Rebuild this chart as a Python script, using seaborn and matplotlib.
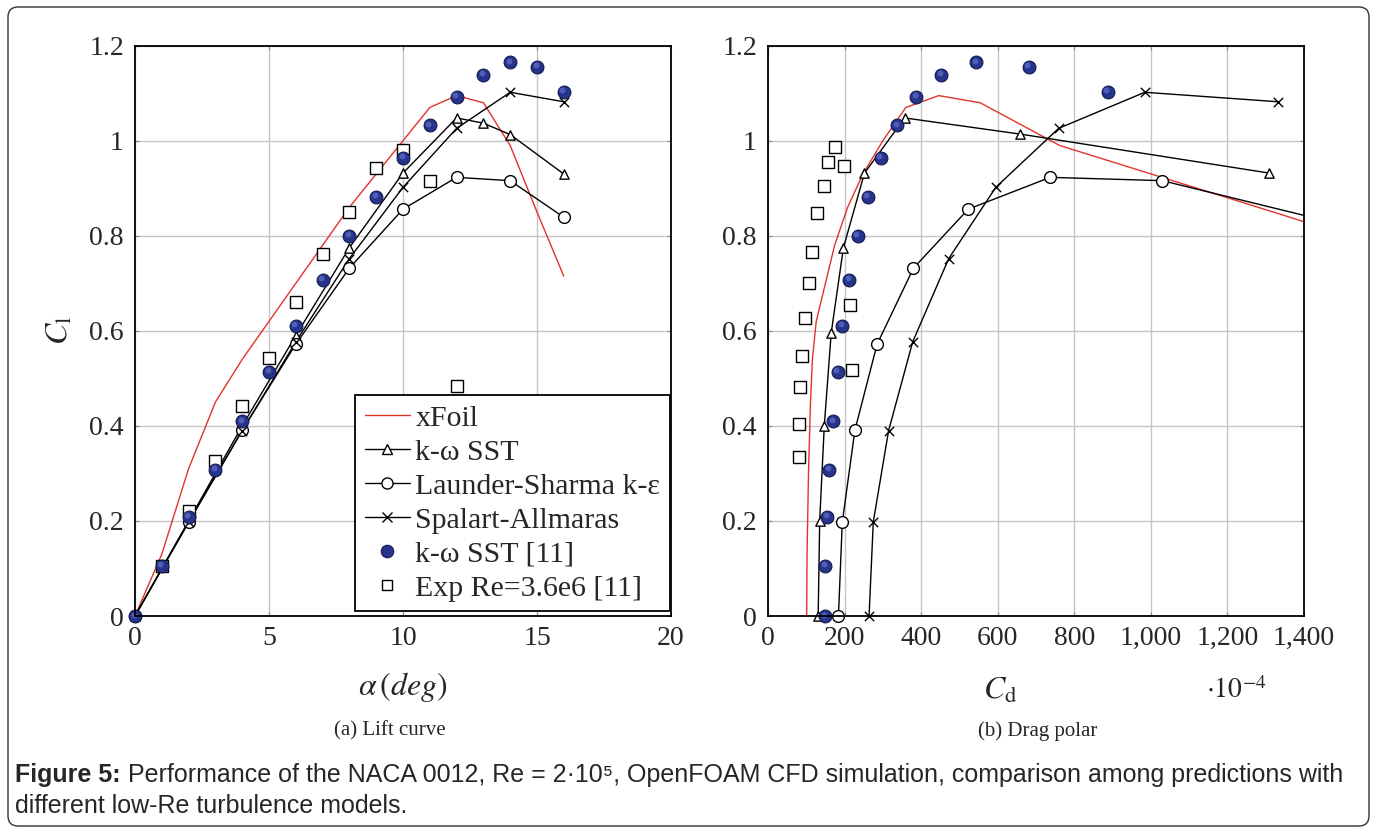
import numpy as np
import pandas as pd
import matplotlib
matplotlib.use("Agg")
import matplotlib.pyplot as plt
import matplotlib.transforms as mtrans
from matplotlib.lines import Line2D
from matplotlib.patches import FancyBboxPatch
import seaborn as sns

# ---------------- data ----------------
alpha = [0, 1, 2, 3, 4, 5, 6, 7, 8, 9, 10, 11, 12, 13, 14, 15, 16]
xfoil_cl = [0, 0.13, 0.31, 0.45, 0.54, 0.62, 0.70, 0.78, 0.86, 0.93, 1.0, 1.07, 1.095, 1.08, 0.99, 0.85, 0.715]
xfoil_cd = [101, 102, 106, 111, 116, 126, 150, 174, 208, 248, 300, 360, 446, 554, 762, 1320, 1850]

sst_alpha = [0, 2, 4, 6, 8, 10, 12, 13, 14, 16]
sst_cl = [0, 0.2, 0.4, 0.59, 0.775, 0.932, 1.048, 1.037, 1.013, 0.93]
sst_polar_cl = [0, 0.2, 0.4, 0.595, 0.775, 0.932, 1.048, 1.014, 0.932]
sst_polar_cd = [131, 135, 147, 165, 197, 252, 357, 659, 1309]

ls_alpha = [0, 2, 4, 6, 8, 10, 12, 14, 16]
ls_cl = [0, 0.197, 0.391, 0.572, 0.732, 0.856, 0.923, 0.916, 0.839]
ls_cd = [184, 194, 227, 285, 380, 523, 737, 1030, 1420]

sa_alpha = [0, 2, 4, 6, 8, 10, 12, 14, 16]
sa_cl = [0, 0.198, 0.39, 0.577, 0.752, 0.902, 1.026, 1.102, 1.082]
sa_cd = [264, 275, 315, 378, 472, 595, 759, 984, 1333]

ref_cl = [0, 0.106, 0.209, 0.308, 0.41, 0.514, 0.611, 0.707, 0.8, 0.882, 0.964, 1.033, 1.093, 1.139, 1.165, 1.156, 1.103]
ref_cd = [150, 150, 155, 160, 171, 182, 194, 212, 235, 261, 295, 337, 387, 452, 544, 681, 887]

exp_alpha = [1, 2, 3, 4, 5, 6, 7, 8, 9, 10, 11, 12]
exp_cl = [0.106, 0.22, 0.326, 0.442, 0.542, 0.66, 0.761, 0.851, 0.942, 0.981, 0.916, 0.483]
exp_polar_cd = [80, 81, 83, 88, 96, 108, 116, 128, 145, 157, 175, 198, 213, 219]
exp_polar_cl = [0.334, 0.404, 0.481, 0.548, 0.627, 0.70, 0.765, 0.847, 0.904, 0.956, 0.986, 0.946, 0.655, 0.517]

lift_xticks = [0, 5, 10, 15, 20]
cl_ticks = [0, 0.2, 0.4, 0.6, 0.8, 1.0, 1.2]
cl_labels = ["0", "0.2", "0.4", "0.6", "0.8", "1", "1.2"]
cd_ticks = [0, 200, 400, 600, 800, 1000, 1200, 1400]
cd_labels = ["0", "200", "400", "600", "800", "1,000", "1,200", "1,400"]

labels = ["xFoil", "k-\u03c9 SST", "Launder-Sharma k-\u03b5", "Spalart-Allmaras",
          "k-\u03c9 SST [11]", "Exp Re=3.6e6 [11]"]

caption_bold = "Figure 5:"
caption_line1 = (" Performance of the NACA 0012, Re = 2\u00b710\u2075, OpenFOAM CFD simulation, "
                 "comparison among predictions with")
caption_line2 = "different low-Re turbulence models."

# ---------------- style ----------------
sns.set_style("whitegrid")
plt.rcParams["font.family"] = ["Liberation Serif", "DejaVu Serif"]
plt.rcParams["mathtext.fontset"] = "stix"

W, H = 1373, 832
fig = plt.figure(figsize=(W / 100, H / 100), dpi=100)
fig.patch.set_facecolor("white")

RED = "#e2332b"
BLUE = "#27348b"
BLUE_EDGE = "#141a4f"
BLUE_HI = "#5a69c4"
TICK_FS = 20
LW = 1.0


def px_axes(x0, y0, x1, y1):
    return fig.add_axes([x0 / W, 1 - y1 / H, (x1 - x0) / W, (y1 - y0) / H])


def style_axes(ax):
    ax.set_facecolor("white")
    ax.grid(True, color="#c6c6c6", linewidth=1.0)
    for s in ax.spines.values():
        s.set_color("black")
        s.set_linewidth(1.3)
        s.set_zorder(5)
    ax.tick_params(direction="in", length=3, width=0.8, color="#888888",
                   labelsize=TICK_FS, top=True, right=True, bottom=True, left=True)
    ax.tick_params(axis="x", pad=7)
    ax.tick_params(axis="y", pad=8)


def line(ax, x, y, color="black", lw=LW):
    sns.lineplot(x=x, y=y, sort=False, estimator=None, color=color,
                 linewidth=lw, ax=ax, zorder=2)


def marks(ax, x, y, marker, size, xmax=None):
    df = pd.DataFrame({"x": x, "y": y})
    if xmax is not None:
        df = df[df["x"] <= xmax]
    if marker == "x":
        sns.scatterplot(data=df, x="x", y="y", marker="x", s=size, color="black",
                        linewidth=1.0, ax=ax, clip_on=False, zorder=4)
    else:
        sns.scatterplot(data=df, x="x", y="y", marker=marker, s=size,
                        facecolor="white", edgecolor="black", linewidth=1.0,
                        ax=ax, clip_on=False, zorder=4)


def dots(ax, x, y, xmax=None):
    df = pd.DataFrame({"x": x, "y": y})
    if xmax is not None:
        df = df[df["x"] <= xmax]
    sns.scatterplot(data=df, x="x", y="y", marker="o", s=85, color=BLUE,
                    edgecolor=BLUE_EDGE, linewidth=0.8, ax=ax, clip_on=False, zorder=4)
    # subtle highlight to mimic the shaded spheres
    shift = ax.transData + mtrans.ScaledTranslation(-1.5 / 100, 1.5 / 100, fig.dpi_scale_trans)
    hi = sns.scatterplot(data=df, x="x", y="y", marker="o", s=18, color=BLUE_HI,
                         linewidth=0, ax=ax, clip_on=False, zorder=4.5, alpha=0.8)
    hi.collections[-1].set_offset_transform(shift)


S_TRI, S_CIR, S_X, S_SQ = 45, 72, 45, 64

# ---------------- left: lift curve ----------------
ax1 = px_axes(135, 45.7, 671, 616)
style_axes(ax1)
line(ax1, alpha, xfoil_cl, color=RED)
line(ax1, sst_alpha, sst_cl)
line(ax1, ls_alpha, ls_cl)
line(ax1, sa_alpha, sa_cl)
marks(ax1, exp_alpha, exp_cl, "s", S_SQ)
marks(ax1, sst_alpha, sst_cl, "^", S_TRI)
marks(ax1, ls_alpha, ls_cl, "o", S_CIR)
marks(ax1, sa_alpha, sa_cl, "x", S_X)
dots(ax1, alpha, ref_cl)
ax1.set_xlim(0, 20)
ax1.set_ylim(0, 1.2)
ax1.set_xticks(lift_xticks)
ax1.set_xticklabels([str(v) for v in lift_xticks])
ax1.set_yticks(cl_ticks)
ax1.set_yticklabels(cl_labels)
ax1.set_xlabel(r"$\alpha\,(deg)$", fontsize=23, labelpad=14)
ax1.set_ylabel(r"$C_\mathrm{l}$", fontsize=23, labelpad=10)

handles = [
    Line2D([], [], color=RED, lw=LW),
    Line2D([], [], color="black", lw=LW, marker="^", markersize=6.5, markerfacecolor="white", markeredgewidth=1.0),
    Line2D([], [], color="black", lw=LW, marker="o", markersize=8, markerfacecolor="white", markeredgewidth=1.0),
    Line2D([], [], color="black", lw=LW, marker="x", markersize=6.5, markeredgewidth=1.0),
    Line2D([], [], lw=0, marker="o", markersize=9, color=BLUE, markeredgecolor=BLUE_EDGE, markeredgewidth=0.8),
    Line2D([], [], lw=0, marker="s", markersize=7.5, markerfacecolor="white", markeredgecolor="black", markeredgewidth=1.0),
]
leg = ax1.legend(handles, labels, loc="lower right", bbox_to_anchor=(0.998, 0.008),
                 fontsize=21.5, frameon=True, fancybox=False, framealpha=1,
                 edgecolor="black", handlelength=1.5, handletextpad=0.2,
                 labelspacing=0.24, borderpad=0.32, borderaxespad=0.0)
leg.get_frame().set_linewidth(1.3)
leg.set_zorder(10)

# ---------------- right: drag polar ----------------
ax2 = px_axes(768, 45.7, 1304, 616)
style_axes(ax2)
line(ax2, xfoil_cd, xfoil_cl, color=RED)
line(ax2, sst_polar_cd, sst_polar_cl)
line(ax2, ls_cd, ls_cl)
line(ax2, sa_cd, sa_cl)
marks(ax2, exp_polar_cd, exp_polar_cl, "s", S_SQ)
marks(ax2, sst_polar_cd, sst_polar_cl, "^", S_TRI, xmax=1400)
marks(ax2, ls_cd, ls_cl, "o", S_CIR, xmax=1400)
marks(ax2, sa_cd, sa_cl, "x", S_X, xmax=1400)
dots(ax2, ref_cd, ref_cl, xmax=1400)
ax2.set_xlim(0, 1400)
ax2.set_ylim(0, 1.2)
ax2.set_xticks(cd_ticks)
ax2.set_xticklabels(cd_labels)
ax2.set_yticks(cl_ticks)
ax2.set_yticklabels(cl_labels)
ax2.set_xlabel("")
ax2.set_ylabel("")
fig.text(1000 / W, 1 - 691 / H, r"$C_\mathrm{d}$", fontsize=23, ha="center", va="center")
fig.text(1236 / W, 1 - 691 / H, r"$\cdot 10^{-4}$", fontsize=20, ha="center", va="center")

# ---------------- captions ----------------
fig.text(390 / W, 1 - 731 / H, "(a) Lift curve", fontsize=15, ha="center", va="center")
fig.text(1038 / W, 1 - 731 / H, "(b) Drag polar", fontsize=15, ha="center", va="center")

axc = fig.add_axes([0, 0, 1, 1], zorder=-5)
axc.axis("off")
axc.set_xlim(0, 1)
axc.set_ylim(0, 1)
sans = ["Liberation Sans", "DejaVu Sans"]
CAP_FS = 18
t1 = axc.text(15 / W, 1 - 775 / H, caption_bold, fontsize=CAP_FS, fontweight="bold",
              family=sans, ha="left", va="center")
axc.annotate(caption_line1, xy=(1, 0), xycoords=t1, fontsize=CAP_FS, family=sans,
             ha="left", va="bottom")
axc.text(15 / W, 1 - 806 / H, caption_line2, fontsize=CAP_FS, family=sans,
         ha="left", va="center")

border = FancyBboxPatch((8, H - 826), 1361, 819, boxstyle="round,pad=0,rounding_size=10",
                        transform=mtrans.IdentityTransform(), facecolor="none",
                        edgecolor="#333333", linewidth=1.0)
fig.add_artist(border)

fig.savefig("out.png", dpi=100, facecolor="white")
